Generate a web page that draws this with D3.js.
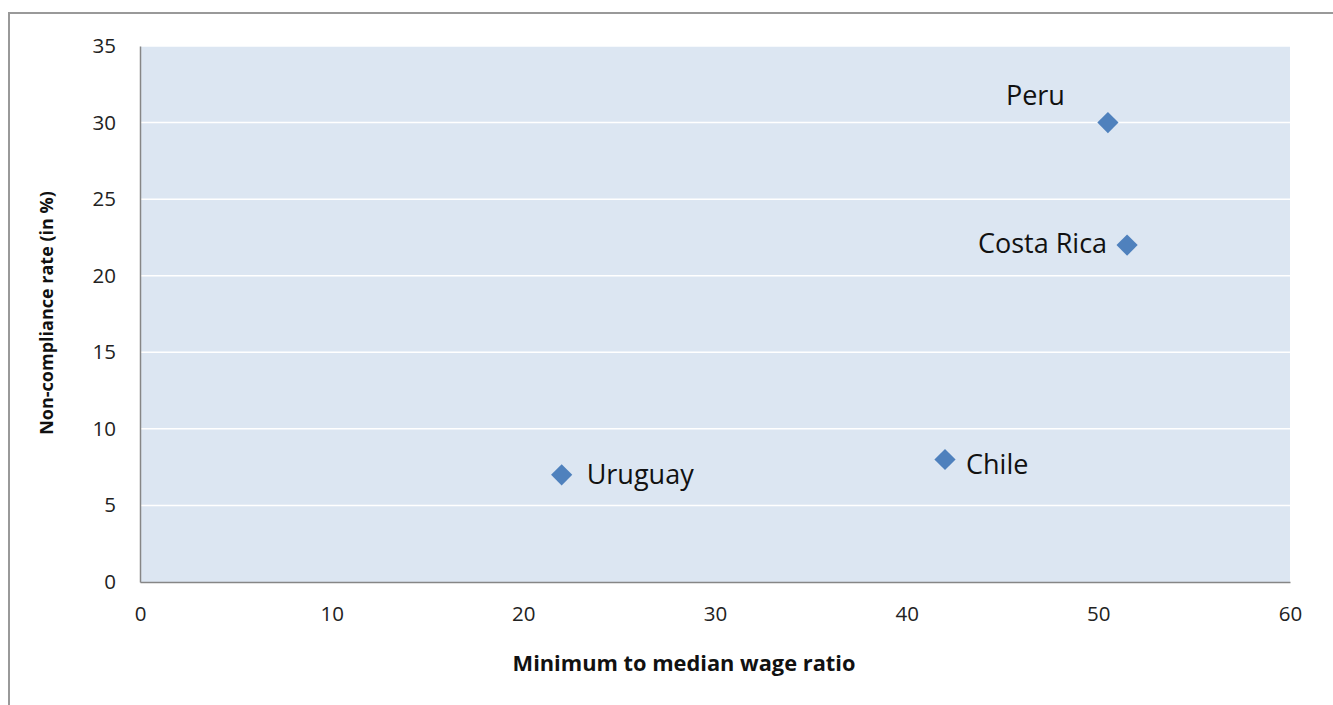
<!DOCTYPE html>
<html><head><meta charset="utf-8">
<script src="https://cdn.jsdelivr.net/npm/d3@7"></script>
<style>html,body{margin:0;padding:0;background:#fff;overflow:hidden}svg{display:block}text{font-family:"Open Sans",Lato,sans-serif}</style>
</head><body>
<script>
const countries = ["Peru", "Costa Rica", "Chile", "Uruguay"];
const wageRatio = [50.5, 51.5, 42, 22];
const nonCompliance = [30, 22, 8, 7];
const labelSide = ["above", "left", "right", "right"];
const xTicks = [0, 10, 20, 30, 40, 50, 60];
const yTicks = [0, 5, 10, 15, 20, 25, 30, 35];
const xTitle = "Minimum to median wage ratio";
const yTitle = "Non-compliance rate (in %)";

const W = 1333, H = 705;
const svg = d3.select("body").append("svg").attr("width", W).attr("height", H);

// outer frame
svg.append("rect").attr("x", 9).attr("y", 13).attr("width", W + 20).attr("height", H + 20)
  .attr("fill", "none").attr("stroke", "#999").attr("stroke-width", 2);

const x = d3.scaleLinear().domain([0, 60]).range([140, 1290]);
const y = d3.scaleLinear().domain([0, 35]).range([582, 46]);

// plot background
svg.append("rect").attr("x", x(0)).attr("y", y(35)).attr("width", x(60) - x(0)).attr("height", y(0) - y(35))
  .attr("fill", "#dce6f2");

// gridlines
svg.append("g").selectAll("line").data(yTicks.filter(d => d > 0)).join("line")
  .attr("x1", x(0)).attr("x2", x(60)).attr("y1", d => y(d)).attr("y2", d => y(d))
  .attr("stroke", "#fff").attr("stroke-width", 1.5);

// axes
const xAxis = svg.append("g").attr("transform", `translate(0,${y(0)})`)
  .call(d3.axisBottom(x).tickValues(xTicks).tickSize(0).tickPadding(24));
xAxis.select(".domain").attr("stroke", "#868686").attr("stroke-width", 1.5);
xAxis.selectAll("text").attr("font-size", 20.5).attr("fill", "#222").attr("font-family", "Open Sans");

const yAxis = svg.append("g").attr("transform", `translate(${x(0)},0)`)
  .call(d3.axisLeft(y).tickValues(yTicks).tickSize(0).tickPadding(24));
yAxis.select(".domain").attr("stroke", "#868686").attr("stroke-width", 1.5);
yAxis.selectAll("text").attr("font-size", 20.5).attr("fill", "#222").attr("font-family", "Open Sans");

// axis titles
svg.append("text").attr("x", 684).attr("y", 671).attr("text-anchor", "middle")
  .attr("font-size", 21.8).attr("font-weight", "bold").attr("fill", "#111").text(xTitle);
svg.append("text").attr("transform", "translate(53,313) rotate(-90)").attr("text-anchor", "middle")
  .attr("font-size", 18).attr("font-weight", "bold").attr("fill", "#111").text(yTitle);

// points
const data = countries.map((c, i) => ({ c, xv: wageRatio[i], yv: nonCompliance[i], side: labelSide[i] }));
svg.append("g").selectAll("path").data(data).join("path")
  .attr("transform", d => `translate(${x(d.xv)},${y(d.yv)}) rotate(45)`)
  .attr("d", d3.symbol().type(d3.symbolSquare).size(225))
  .attr("fill", "#4f81bd");

const dx = { "Peru": -43, "Costa Rica": -20, "Chile": 21, "Uruguay": 25 };
const dy = { "Peru": -18, "Costa Rica": 8, "Chile": 15, "Uruguay": 9 };
svg.append("g").selectAll("text").data(data).join("text")
  .attr("x", d => x(d.xv) + dx[d.c])
  .attr("y", d => y(d.yv) + dy[d.c])
  .attr("text-anchor", d => d.side === "right" ? "start" : "end")
  .attr("font-size", 27).attr("fill", "#111").text(d => d.c);
</script>
</body></html>
